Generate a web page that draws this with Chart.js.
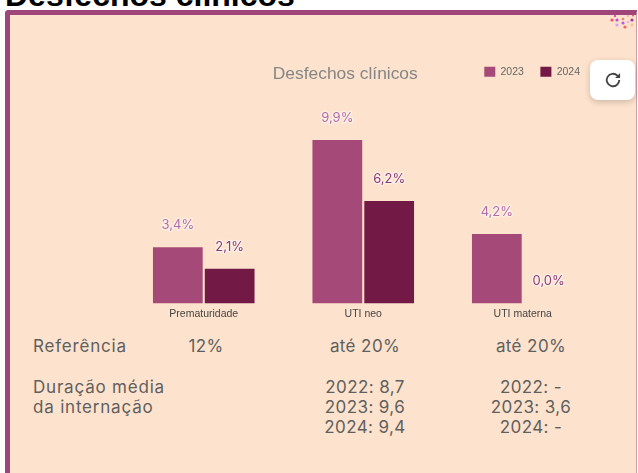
<!DOCTYPE html>
<html lang="pt">
<head>
<meta charset="utf-8">
<title>Desfechos clínicos</title>
<script src="https://cdn.jsdelivr.net/npm/chart.js@4/dist/chart.umd.min.js"></script>
<style>
html,body{margin:0;padding:0;background:#fff;width:638px;height:473px;overflow:hidden}
#head{position:absolute;left:5px;top:-20px;font:bold 32px/30px "Liberation Sans",sans-serif;color:#000;white-space:nowrap;margin:0}
#card{position:absolute;left:5px;top:10px;width:632px;height:480px;box-sizing:border-box;background:#fde3cd;border-left:5px solid #a0457a;border-top:5px solid #a0457a;border-right:1px solid #c9a0a6;border-top-left-radius:4px}
#wrap{position:absolute;left:86px;top:50px;width:520px;height:274px}
.t{position:absolute;font:400 17px/20px Inter,sans-serif;letter-spacing:.4px;color:#5f5f5f;white-space:nowrap;transform:translateX(-50%)}
.l{transform:none;letter-spacing:.8px}
#btn{position:absolute;left:590px;top:60px;width:45px;height:40px;background:#fff;border-radius:8px;box-shadow:0 2px 6px rgba(0,0,0,.2);display:flex;align-items:center;justify-content:center}
#dots{position:absolute;left:608px;top:14px;filter:blur(.4px)}
</style>
</head>
<body>
<h1 id="head">Desfechos clínicos</h1>
<div id="card"></div>
<svg id="dots" width="30" height="16" viewBox="0 0 30 16">
<circle cx="7" cy="2" r="1.2" fill="#d94fc0"/><circle cx="20" cy="2" r="1" fill="#f0a0c0"/><circle cx="25" cy="1.5" r="1" fill="#e06060"/>
<circle cx="4" cy="6" r="1.6" fill="#e85a6a"/><circle cx="9" cy="6" r="1.6" fill="#c050d0"/><circle cx="15" cy="5" r="1.3" fill="#f08070"/><circle cx="24" cy="6" r="1.6" fill="#a04090"/>
<circle cx="15" cy="9" r="1.6" fill="#b060e0"/><circle cx="20" cy="8" r="1.3" fill="#f0b0e0"/>
<circle cx="9" cy="11" r="1.6" fill="#d8a0f0"/><circle cx="24" cy="11" r="1.4" fill="#f8c090"/><circle cx="17" cy="13" r="1.6" fill="#f06a5a"/>
</svg>
<div id="wrap"><canvas id="c"></canvas></div>
<div id="btn"><svg width="20" height="20" viewBox="0 0 24 24" fill="none" stroke="#444" stroke-width="2.2"><path d="M19.5 12a7.5 7.5 0 1 1-2.2-5.3L20 9"/><path d="M20.5 3.5V9.5H14.5" fill="#444" stroke="none"/></svg></div>
<div class="t l" style="left:33px;top:336px">Referência</div>
<div class="t" style="left:206px;top:336px">12%</div>
<div class="t" style="left:365px;top:336px">até 20%</div>
<div class="t" style="left:531px;top:336px">até 20%</div>
<div class="t l" style="left:33px;top:377px">Duração média</div>
<div class="t l" style="left:33px;top:397px">da internação</div>
<div class="t" style="left:365px;top:377px">2022: 8,7</div>
<div class="t" style="left:365px;top:397px">2023: 9,6</div>
<div class="t" style="left:365px;top:417px">2024: 9,4</div>
<div class="t" style="left:531px;top:377px">2022: -</div>
<div class="t" style="left:531px;top:397px">2023: 3,6</div>
<div class="t" style="left:531px;top:417px">2024: -</div>
<script>
const categories = ["Prematuridade", "UTI neo", "UTI materna"];
const seriesNames = ["2023", "2024"];
const values2023 = [3.4, 9.9, 4.2];
const values2024 = [2.1, 6.2, 0.0];
const chartTitle = "Desfechos clínicos";

const valueLabels = {
  id: "valueLabels",
  afterDatasetsDraw(chart) {
    const ctx = chart.ctx;
    ctx.save();
    ctx.font = '400 13px Inter, sans-serif';
    ctx.textAlign = "center";
    ctx.textBaseline = "middle";
    ctx.lineJoin = "round";
    const colors = ["#b56ba6", "#8a3a76"];
    chart.data.datasets.forEach((ds, i) => {
      chart.getDatasetMeta(i).data.forEach((bar, j) => {
        const text = ds.data[j].toFixed(1).replace(".", ",") + "%";
        const y = bar.y - 22;
        ctx.lineWidth = 2.5;
        ctx.strokeStyle = "rgba(255,255,255,.5)";
        ctx.strokeText(text, bar.x, y);
        ctx.fillStyle = colors[i];
        ctx.fillText(text, bar.x, y);
      });
    });
    ctx.restore();
  }
};
const headerMove = {
  id: "headerMove",
  afterLayout(chart) {
    chart.legend.top = 0;
    chart.legend.right -= 6;
    chart.legend.left -= 6;
    chart.titleBlock.left -= 18;
    chart.titleBlock.right -= 18;
  }
};

new Chart(document.getElementById("c"), {
  type: "bar",
  data: {
    labels: categories,
    datasets: [
      { label: seriesNames[0], data: values2023, backgroundColor: "#a54a78", categoryPercentage: 0.65, barPercentage: 0.96 },
      { label: seriesNames[1], data: values2024, backgroundColor: "#721a45", categoryPercentage: 0.65, barPercentage: 0.96 }
    ]
  },
  options: {
    responsive: true,
    maintainAspectRatio: false,
    animation: false,
    layout: { padding: { left: 38, right: 3.5, top: 14, bottom: 0 } },
    plugins: {
      tooltip: { enabled: false },
      title: { display: true, text: chartTitle, color: "#858585", font: { family: "Liberation Sans", size: 17.4, weight: "normal" }, padding: { top: 0, bottom: 4 } },
      legend: { display: true, position: "top", align: "end",
        labels: { boxWidth: 11, boxHeight: 10, color: "#666", font: { family: "Liberation Sans", size: 10.5 }, padding: 16.5 } }
    },
    scales: {
      x: { grid: { display: false, drawTicks: false }, border: { display: false },
        ticks: { color: "#444", font: { family: "Liberation Sans", size: 10.5 }, padding: 4, maxRotation: 0 } },
      y: { display: false, min: 0, max: 10.75, grid: { display: false } }
    }
  },
  plugins: [valueLabels, headerMove]
});
</script>
</body>
</html>
